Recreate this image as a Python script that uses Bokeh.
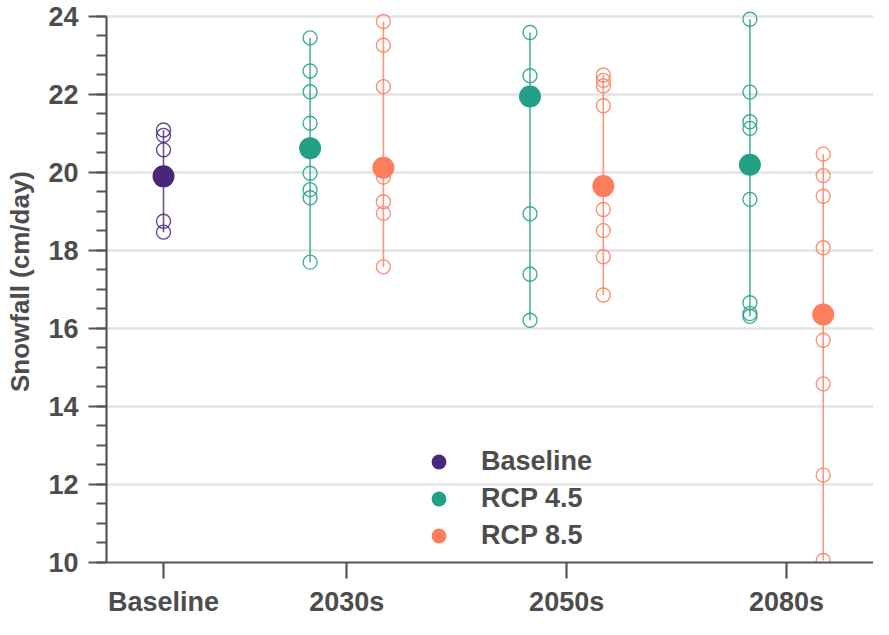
from bokeh.plotting import figure
from bokeh.models import (Range1d, SingleIntervalTicker, FixedTicker, ColumnDataSource,
                          Legend, LegendItem)
from bokeh.embed import file_html
from bokeh.resources import INLINE

# ---------------- data ----------------
periods = ["Baseline", "2030s", "2050s", "2080s"]
scenarios = ["Baseline", "RCP 4.5", "RCP 8.5"]

baseline_runs = [21.09, 20.95, 20.58, 18.75, 18.47]
baseline_mean = [19.90]

rcp45_2030s = [23.45, 22.60, 22.07, 21.26, 19.98, 19.56, 19.35, 17.70]
rcp45_2050s = [23.59, 22.48, 18.94, 17.39, 16.21]
rcp45_2080s = [23.93, 22.06, 21.30, 21.13, 19.31, 16.66, 16.38, 16.31]
rcp45_means = [20.62, 21.95, 20.20]

rcp85_2030s = [23.87, 23.26, 22.20, 19.88, 19.25, 18.95, 17.58]
rcp85_2050s = [22.50, 22.36, 22.22, 21.71, 19.05, 18.51, 17.84, 16.86]
rcp85_2080s = [20.47, 19.92, 19.39, 18.07, 15.70, 14.58, 12.24, 10.05]
rcp85_means = [20.12, 19.65, 16.36]

colors = {"Baseline": "#48277A", "RCP 4.5": "#21A086", "RCP 8.5": "#FC7E5C"}

# ---------------- layout of slots ----------------
# baseline in slot 0; future period k (1..3): RCP 4.5 in slot 3k-1, RCP 8.5 in slot 3k
groups = {
    "Baseline": ([0], [baseline_runs], baseline_mean),
    "RCP 4.5": ([3 * k - 1 for k in (1, 2, 3)], [rcp45_2030s, rcp45_2050s, rcp45_2080s], rcp45_means),
    "RCP 8.5": ([3 * k for k in (1, 2, 3)], [rcp85_2030s, rcp85_2050s, rcp85_2080s], rcp85_means),
}
tick_pos = [0] + [3 * k - 0.5 for k in (1, 2, 3)]

TXT = "#4d4d4d"
FONT = "Liberation Sans"

p = figure(width=873, height=619, output_backend="svg", toolbar_location=None,
           x_range=Range1d(-0.7776, 9.686), y_range=Range1d(10, 24.409),
           min_border_left=106, min_border_right=0, min_border_top=0, min_border_bottom=55)
p.outline_line_color = None
p.background_fill_color = "white"

mean_renderers = {}
for s in scenarios:
    xs, runs, means = groups[s]
    c = colors[s]
    seg = ColumnDataSource(dict(x=xs, lo=[min(r) for r in runs], hi=[max(r) for r in runs]))
    p.segment(x0="x", y0="lo", x1="x", y1="hi", source=seg, line_color=c, line_width=1.6, line_alpha=0.8)
    rx, ry = [], []
    for x, r in zip(xs, runs):
        rx += [x] * len(r)
        ry += r
    p.scatter(rx, ry, marker="circle", size=14, fill_color=None, line_color=c,
              line_width=1.4, line_alpha=0.85)
    mean_renderers[s] = p.scatter(xs, means, marker="circle", size=22, fill_color=c, line_color=None)

# axes
p.xgrid.visible = False
p.ygrid.grid_line_color = "#e3e3e3"
p.ygrid.grid_line_width = 2.5

yt = SingleIntervalTicker(interval=2, num_minor_ticks=4)
p.yaxis.ticker = yt
p.ygrid.ticker = yt
p.yaxis.bounds = (10, 24)
p.yaxis.axis_label = "Snowfall (cm/day)"
p.yaxis.axis_label_text_font = FONT
p.yaxis.axis_label_text_font_style = "bold"
p.yaxis.axis_label_text_font_size = "26px"
p.yaxis.axis_label_text_color = TXT
p.yaxis.axis_label_standoff = 10
p.yaxis.major_tick_out = 18
p.yaxis.major_tick_in = 0
p.yaxis.minor_tick_out = 10
p.yaxis.minor_tick_in = 0
p.yaxis.major_label_standoff = 10

p.xaxis.ticker = FixedTicker(ticks=tick_pos, minor_ticks=[])
p.xaxis.major_label_overrides = {t: lab for t, lab in zip(tick_pos, periods)}
p.xaxis.major_tick_out = 16
p.xaxis.major_tick_in = 0
p.xaxis.major_label_standoff = 8

for ax in (p.xaxis[0], p.yaxis[0]):
    ax.axis_line_color = "#555555"
    ax.axis_line_width = 2.2
    ax.major_tick_line_color = "#555555"
    ax.major_tick_line_width = 2.2
    ax.minor_tick_line_color = "#555555"
    ax.minor_tick_line_width = 2.2
    ax.major_label_text_font = FONT
    ax.major_label_text_font_style = "bold"
    ax.major_label_text_font_size = "27px"
    ax.major_label_text_color = TXT

legend = Legend(items=[LegendItem(label=s, renderers=[mean_renderers[s]]) for s in scenarios],
                location=(314, 8), orientation="vertical",
                glyph_width=37, glyph_height=37, label_height=37, spacing=0,
                label_standoff=24, padding=0, margin=0,
                background_fill_alpha=0, border_line_alpha=0,
                label_text_font=FONT, label_text_font_style="bold",
                label_text_font_size="27px", label_text_color=TXT)
p.add_layout(legend)

open("out.html", "w").write(file_html(p, INLINE))
